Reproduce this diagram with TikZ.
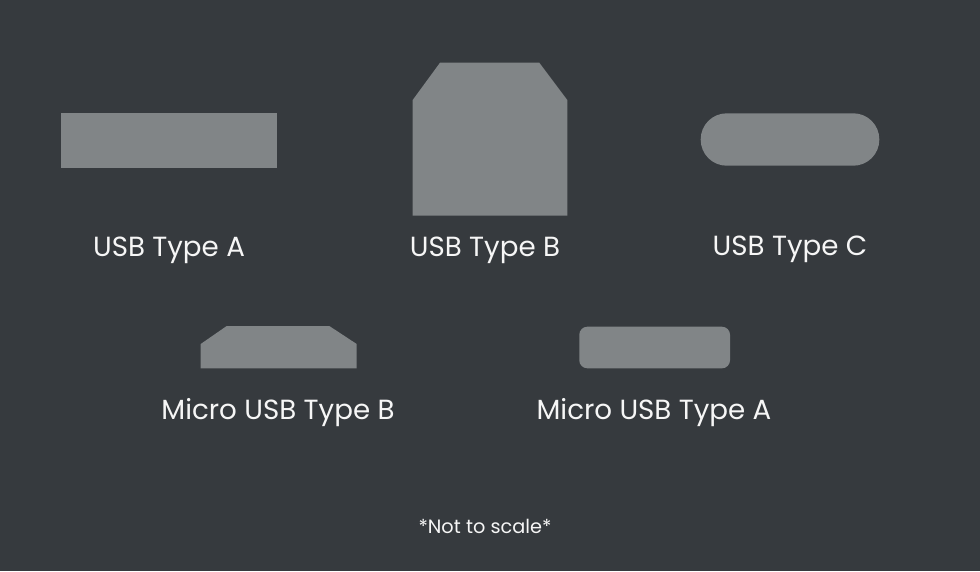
\documentclass[tikz,border=0pt]{standalone}
\usepackage{fontspec}
\setmainfont{Poppins}
\usetikzlibrary{positioning}
\definecolor{bgdark}{RGB}{54,58,62}
\definecolor{plug}{RGB}{129,133,135}
\definecolor{txtwhite}{RGB}{246,246,246}
\tikzstyle{port} = [fill=plug, draw=none]
\tikzstyle{label} = [anchor=base, text=txtwhite, inner sep=0pt, font=\fontsize{27.7}{32}\selectfont]
\tikzstyle{note} = [anchor=base, text=txtwhite, inner sep=0pt, font=\fontsize{19.3}{23}\selectfont]

\begin{document}
\begin{tikzpicture}[x=1pt,y=-1pt]
	% background
	\fill[bgdark] (0,0) rectangle (980,571);
	\useasboundingbox (0,0) rectangle (980,571);
	% connector outlines
	\fill[port] (61,112.7) rectangle (277.3,168.3);
	\fill[port] (412.7,215.7) -- (412.7,100) -- (440,62.7) -- (539.3,62.7) -- (567.3,100) -- (567.3,215.7) -- cycle;
	\fill[port, rounded corners=26pt] (700.7,113.3) rectangle (879.3,165.7);
	\fill[port] (200.7,368.3) -- (200.7,344) -- (226.7,326) -- (329.3,326) -- (356.7,344) -- (356.7,368.3) -- cycle;
	\fill[port, rounded corners=8pt] (579.3,326.7) rectangle (730,368.3);
	% names
	\node (A) [label] at (169,256) {USB Type A};
	\node (B) [label] at (485,256) {USB Type B};
	\node (C) [label] at (790,255) {USB Type C};
	\node (MB) [label] at (278,419.5) {Micro USB Type B};
	\node (MA) [label] at (654,419.5) {Micro USB Type A};
	\node (NS) [note] at (485,533) {*Not to scale*};
\end{tikzpicture}
\end{document}
